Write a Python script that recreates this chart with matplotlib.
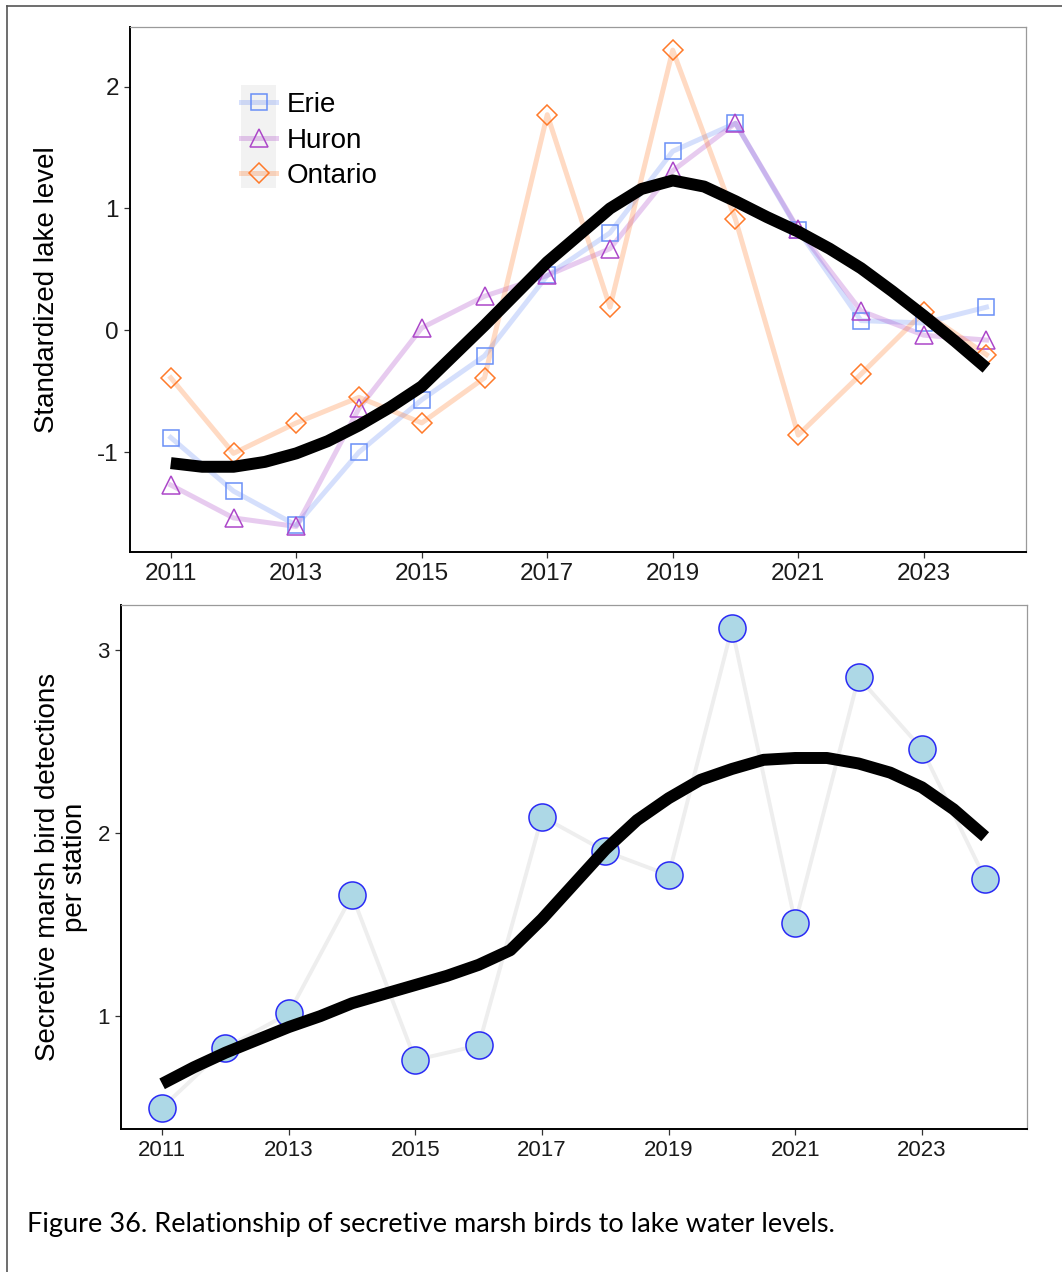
import numpy as np
import matplotlib.pyplot as plt
from matplotlib.lines import Line2D
from matplotlib.patches import Rectangle
from matplotlib.colors import to_rgba

plt.rcParams['font.family'] = ['Liberation Sans', 'DejaVu Sans']
plt.rcParams['axes.unicode_minus'] = False

years = np.arange(2011, 2025)
erie = [-0.88, -1.32, -1.60, -1.00, -0.57, -0.21, 0.45, 0.80, 1.47, 1.70, 0.82, 0.08, 0.06, 0.19]
huron = [-1.27, -1.54, -1.61, -0.64, 0.02, 0.28, 0.45, 0.67, 1.31, 1.70, 0.83, 0.16, -0.04, -0.08]
ontario = [-0.39, -1.01, -0.76, -0.55, -0.76, -0.39, 1.77, 0.19, 2.30, 0.91, -0.86, -0.36, 0.15, -0.20]

fit_years = np.arange(2011, 2024.01, 0.5)
lake_fit = [-1.09, -1.12, -1.12, -1.08, -1.01, -0.91, -0.78, -0.63, -0.46, -0.21,
            0.04, 0.30, 0.56, 0.78, 1.00, 1.16, 1.23, 1.18, 1.06, 0.93,
            0.81, 0.67, 0.51, 0.32, 0.12, -0.09, -0.31]

birds = [0.50, 0.825, 1.015, 1.66, 0.76, 0.84, 2.09, 1.90, 1.77, 3.12, 1.51, 2.85, 2.46, 1.75]
bird_fit = [0.63, 0.72, 0.80, 0.87, 0.94, 1.00, 1.07, 1.12, 1.17, 1.22,
            1.28, 1.36, 1.53, 1.72, 1.91, 2.07, 2.19, 2.29, 2.35, 2.40,
            2.41, 2.41, 2.38, 2.33, 2.25, 2.13, 1.98]

lakes = ['Erie', 'Huron', 'Ontario']
lake_vals = [erie, huron, ontario]
colors = ['#6a8ff7', '#ac47c9', '#ff7a2a']
markers = ['s', '^', 'D']
msizes = [11.5, 13.5, 9.8]
xticks = [2011, 2013, 2015, 2017, 2019, 2021, 2023]

fig = plt.figure(figsize=(10.62, 12.72), dpi=100)
ax1 = fig.add_axes([0.1224, 0.5660, 0.8437, 0.4128])
ax2 = fig.add_axes([0.1139, 0.1124, 0.8531, 0.4120])


def style(ax, fs):
    for s in ['top', 'right']:
        ax.spines[s].set_color('#9a9a9a')
        ax.spines[s].set_linewidth(0.9)
    for s in ['left', 'bottom']:
        ax.spines[s].set_color('black')
        ax.spines[s].set_linewidth(1.4)
    ax.tick_params(length=4, width=0.9, color='#333333', labelsize=fs,
                   labelcolor='#1a1a1a', pad=4)
    ax.set_xticks(xticks)


# top panel
for vals, c in zip(lake_vals, colors):
    ax1.plot(years, vals, color=to_rgba(c, 0.28), lw=3.6, solid_joinstyle='round', zorder=2)
for vals, c, m, ms in zip(lake_vals, colors, markers, msizes):
    ax1.plot(years, vals, ls='none', marker=m, ms=ms, mfc='none', mec=c, mew=1.1, zorder=3)
ax1.plot(fit_years, lake_fit, color='black', lw=8.6, solid_capstyle='butt',
         solid_joinstyle='round', zorder=4)
ax1.set_xlim(2010.35, 2024.63)
ax1.set_ylim(-1.82, 2.49)
ax1.set_yticks([-1, 0, 1, 2])
style(ax1, 17.5)

handles = [Line2D([], [], color=to_rgba(c, 0.28), lw=3.6, marker=m, ms=ms, mfc='none',
                  mec=c, mew=1.1) for c, m, ms in zip(colors, markers, msizes)]
ax1.add_patch(Rectangle((0.1239, 0.6933), 0.0391, 0.1962, transform=ax1.transAxes,
                        facecolor='#f2f2f2', edgecolor='none', zorder=1))
ax1.legend(handles, lakes, loc='upper left', bbox_to_anchor=(0.1239, 0.876),
           frameon=False, fontsize=20, handlelength=1.26, handletextpad=0.4,
           labelspacing=0.34, borderpad=0, borderaxespad=0)

# bottom panel
ax2.plot(years, birds, color='#eeeeee', lw=2.8, zorder=2)
ax2.plot(years, birds, ls='none', marker='o', ms=19.5, mfc='#add8e6', mec='#2a2af5',
         mew=1.1, zorder=3)
ax2.plot(fit_years, bird_fit, color='black', lw=8.6, solid_capstyle='butt',
         solid_joinstyle='round', zorder=4)
ax2.set_xlim(2010.35, 2024.66)
ax2.set_ylim(0.383, 3.246)
ax2.set_yticks([1, 2, 3])
style(ax2, 16)

fig.text(0.0443, 0.7724, 'Standardized lake level', rotation=90, ha='center',
         va='center', fontsize=20)
fig.text(0.0579, 0.3184, 'Secretive marsh bird detections\nper station', rotation=90,
         ha='center', va='center', fontsize=20, multialignment='center', linespacing=1.05)

cap = fig.text(0.0254, 0.0377, 'Figure 36. Relationship of secretive marsh birds to lake water levels.',
               ha='left', va='center', fontsize=17, family=['Lato', 'DejaVu Sans'])
fig.canvas.draw()
w = cap.get_window_extent().width
cap.set_fontsize(17 * 809 / w)

# page border (left and top edges only visible)
fig.add_artist(Line2D([0.0066, 0.0066], [0, 0.9953], transform=fig.transFigure,
                      color='#555555', lw=1.2))
fig.add_artist(Line2D([0.0066, 1], [0.9953, 0.9953], transform=fig.transFigure,
                      color='#555555', lw=1.2))

fig.savefig('out.png', dpi=100)
